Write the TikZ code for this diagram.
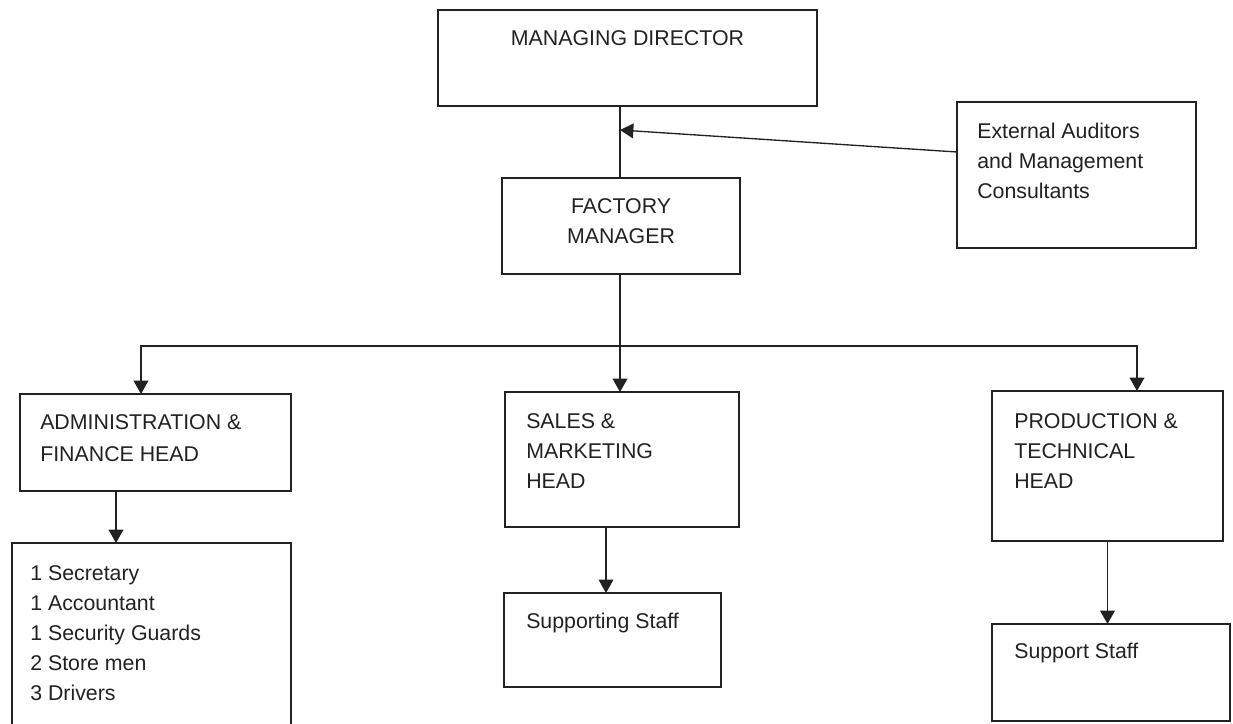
\documentclass[tikz,border=0pt]{standalone}
\usepackage{fontspec}
\setmainfont{Liberation Sans}
\usetikzlibrary{arrows.meta}
\definecolor{ink}{HTML}{222222}
\begin{document}
\begin{tikzpicture}[x=0.75pt,y=-0.75pt,
  bx/.style 2 args={draw=ink, line width=1.1pt, inner sep=0pt, outer sep=0pt,
     minimum width=#1*0.75pt, minimum height=#2*0.75pt},
  txt/.style={text=ink, inner sep=0pt, font=\fontsize{16}{22.5}\selectfont},
  conn/.style={draw=ink, line width=1pt},
  arr/.style={conn, -{Triangle[length=10pt,width=11pt]}},
  arrs/.style={conn, {Triangle[length=10pt,width=11pt]}-{Triangle[length=10pt,width=11pt]}}]
\useasboundingbox (0,0) rectangle (1233,724);
\fill[white] (0,0) rectangle (1233,724);
% boxes
\node[bx={379}{96}]  (md)    at (627.5,58)   {};
\node[bx={239}{146}] (ea)    at (1076.5,175) {};
\node[bx={238}{96}]  (fm)    at (621,226)    {};
\node[bx={271}{97}]  (admin) at (155.5,442.5){};
\node[bx={234}{135}] (sales) at (622,459.5)  {};
\node[bx={231}{150}] (prod)  at (1107.5,466) {};
\node[bx={279}{197}] (staff) at (151.5,641.5){};
\node[bx={217}{94}]  (sup1)  at (612.5,640)  {};
\node[bx={238}{97}]  (sup2)  at (1111,672.5) {};
% texts
\node[txt, anchor=north] (tmd) at (627.5,30) {MANAGING DIRECTOR};
\node[txt, anchor=north, align=center] (tfm) at (621,198) {FACTORY\\MANAGER};
\node[txt, anchor=north west, align=left] (tea) at (977,123) {External Auditors\\and Management\\Consultants};
\node[txt, anchor=north west, align=left, font=\fontsize{16}{24}\selectfont] (tadmin) at (40,414) {ADMINISTRATION \&\\FINANCE HEAD};
\node[txt, anchor=north west, align=left] (tstaff) at (30,565) {1 Secretary\\1 Accountant\\1 Security Guards\\2 Store men\\3 Drivers};
\node[txt, anchor=north west, align=left] (tsales) at (526,413) {SALES \&\\MARKETING\\HEAD};
\node[txt, anchor=north west, align=left] (tsup1) at (526,613) {Supporting Staff};
\node[txt, anchor=north west, align=left] (tprod) at (1014,413) {PRODUCTION \&\\TECHNICAL\\HEAD};
\node[txt, anchor=north west, align=left] (tsup2) at (1014,643) {Support Staff};
% connector coordinates
\coordinate (j1) at (620,130);
\coordinate (eaout) at (957,152);
\coordinate (busL) at (141,346);
\coordinate (busM) at (620,346);
\coordinate (busR) at (1137,346);
\coordinate (c1) at (116,500);
\coordinate (c2) at (606,560);
% connectors
\draw[conn] (md.south -| j1) -- (fm.north -| j1);
\draw[arr] (ea.west |- eaout) -- (j1);
\draw[arr] (fm.south -| busM) -- (sales.north -| busM);
\draw[arrs] (busL |- admin.north) -- (busL) -- (busR) -- (busR |- prod.north);
\draw[arr] (admin.south -| c1) -- (staff.north -| c1);
\draw[arr] (sales.south -| c2) -- (sup1.north -| c2);
\draw[arr] (prod.south) -- (prod.south |- sup2.north);
\end{tikzpicture}
\end{document}
